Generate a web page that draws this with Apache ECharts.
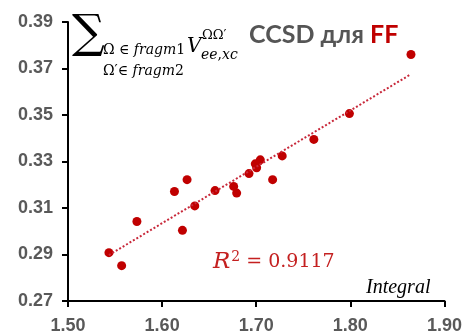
<!DOCTYPE html>
<html><head><meta charset="utf-8">
<script src="https://cdn.jsdelivr.net/npm/echarts@6/dist/echarts.min.js"></script>
<style>html,body{margin:0;padding:0;background:#fff}#c{width:465px;height:335px}</style>
</head><body><div id="c"></div>
<script>
const xValues = [1.5435, 1.557, 1.5732, 1.6131, 1.6216, 1.6265, 1.6347, 1.6562, 1.676, 1.6792, 1.6923, 1.699, 1.7004, 1.7043, 1.7174, 1.7276, 1.7612, 1.799, 1.8644];
const yValues = [0.2908, 0.2852, 0.3042, 0.3171, 0.3004, 0.3222, 0.3109, 0.3175, 0.3193, 0.3164, 0.3248, 0.3290, 0.3273, 0.3307, 0.3222, 0.3324, 0.3395, 0.3506, 0.3760];
const xTicks = ['1.50','1.60','1.70','1.80','1.90'];
const yTicks = ['0.27','0.29','0.31','0.33','0.35','0.37','0.39'];
const r2Label = '0.9117';

const n = xValues.length;
const mx = xValues.reduce((a,b)=>a+b,0)/n;
const my = yValues.reduce((a,b)=>a+b,0)/n;
let sxy=0,sxx=0;
for(let i=0;i<n;i++){sxy+=(xValues[i]-mx)*(yValues[i]-my);sxx+=(xValues[i]-mx)**2;}
const slope=sxy/sxx, icpt=my-slope*mx;
const x0=Math.min(...xValues), x1=Math.max(...xValues);
const trend=[[x0,icpt+slope*x0],[x1,icpt+slope*x1]];

const red='#C00000';
const r2c='#C42020';
const chart=echarts.init(document.getElementById('c'),null,{renderer:'canvas'});
const lab={color:'#595959',fontWeight:'bold',fontSize:18,fontFamily:'Liberation Sans, Arial, sans-serif'};
chart.setOption({
  animation:false,
  grid:{left:68,right:20,top:22,bottom:31,containLabel:false},
  xAxis:{type:'value',min:1.5,max:1.9,interval:0.1,
    axisLine:{lineStyle:{color:'#000',width:2}},
    axisTick:{show:true,length:6,lineStyle:{color:'#000',width:2}},
    splitLine:{show:false},
    axisLabel:Object.assign({margin:16,formatter:(v)=>xTicks[Math.round((v-1.5)/0.1)]},lab)},
  yAxis:{type:'value',min:0.27,max:0.39,interval:0.02,
    axisLine:{show:true,lineStyle:{color:'#000',width:2}},
    axisTick:{show:true,length:6,lineStyle:{color:'#000',width:2}},
    splitLine:{show:false},
    axisLabel:Object.assign({margin:15,formatter:(v)=>yTicks[Math.round((v-0.27)/0.02)]},lab)},
  title:{left:244,top:17,text:'{a|CCSD для }{b|FF}',textStyle:{rich:{
    a:{color:'#555555',fontWeight:'bold',fontSize:25,fontFamily:'Lato, sans-serif'},
    b:{color:red,fontWeight:'bold',fontSize:25,fontFamily:'Lato, sans-serif'}}}},
  series:[
    {type:'line',data:trend,symbol:'none',z:3,
      lineStyle:{color:'#C8283A',width:2,type:[2,2]}},
    {type:'scatter',data:xValues.map((x,i)=>[x,yValues[i]]),symbol:'circle',symbolSize:9,z:2,
      itemStyle:{color:red,opacity:1}}
  ],
  graphic:[
    {type:'text',left:72,top:12,style:{text:'∑',fontSize:46,fontFamily:'DejaVu Serif, serif',fill:'#000'}},
    {type:'text',left:103,top:43,style:{text:'Ω ∈ 𝑓𝑟𝑎𝑔𝑚1',fontSize:14,fontFamily:'DejaVu Serif, serif',fill:'#000'}},
    {type:'text',left:103,top:64,style:{text:'Ω′∈ 𝑓𝑟𝑎𝑔𝑚2',fontSize:14,fontFamily:'DejaVu Serif, serif',fill:'#000'}},
    {type:'text',left:187,top:37,style:{text:'𝑉',fontSize:20,fontFamily:'DejaVu Serif, serif',fill:'#000'}},
    {type:'text',left:202,top:29,style:{text:'ΩΩ′',fontSize:13,fontFamily:'DejaVu Serif, serif',fill:'#000'}},
    {type:'text',left:201,top:48,style:{text:'𝑒𝑒,𝑥𝑐',fontSize:14,fontFamily:'DejaVu Serif, serif',fill:'#000'}},
    {type:'text',left:213,top:250,style:{fill:r2c,rich:{r:{fontSize:23,fontStyle:'italic',fontFamily:'DejaVu Serif, serif',fill:r2c},s:{fontSize:14,verticalAlign:'top',fontFamily:'DejaVu Serif, serif',fill:r2c,padding:[0,0,10,1]},t:{fontSize:19,fontFamily:'DejaVu Serif, serif',fill:r2c}},text:'{r|R}{s|2}{t| = '+r2Label+'}'}},
    {type:'text',left:366,top:278,style:{text:'Integral',fontSize:20,fontStyle:'italic',fontFamily:'Liberation Serif, serif',fill:'#000'}}
  ]
});
</script></body></html>
